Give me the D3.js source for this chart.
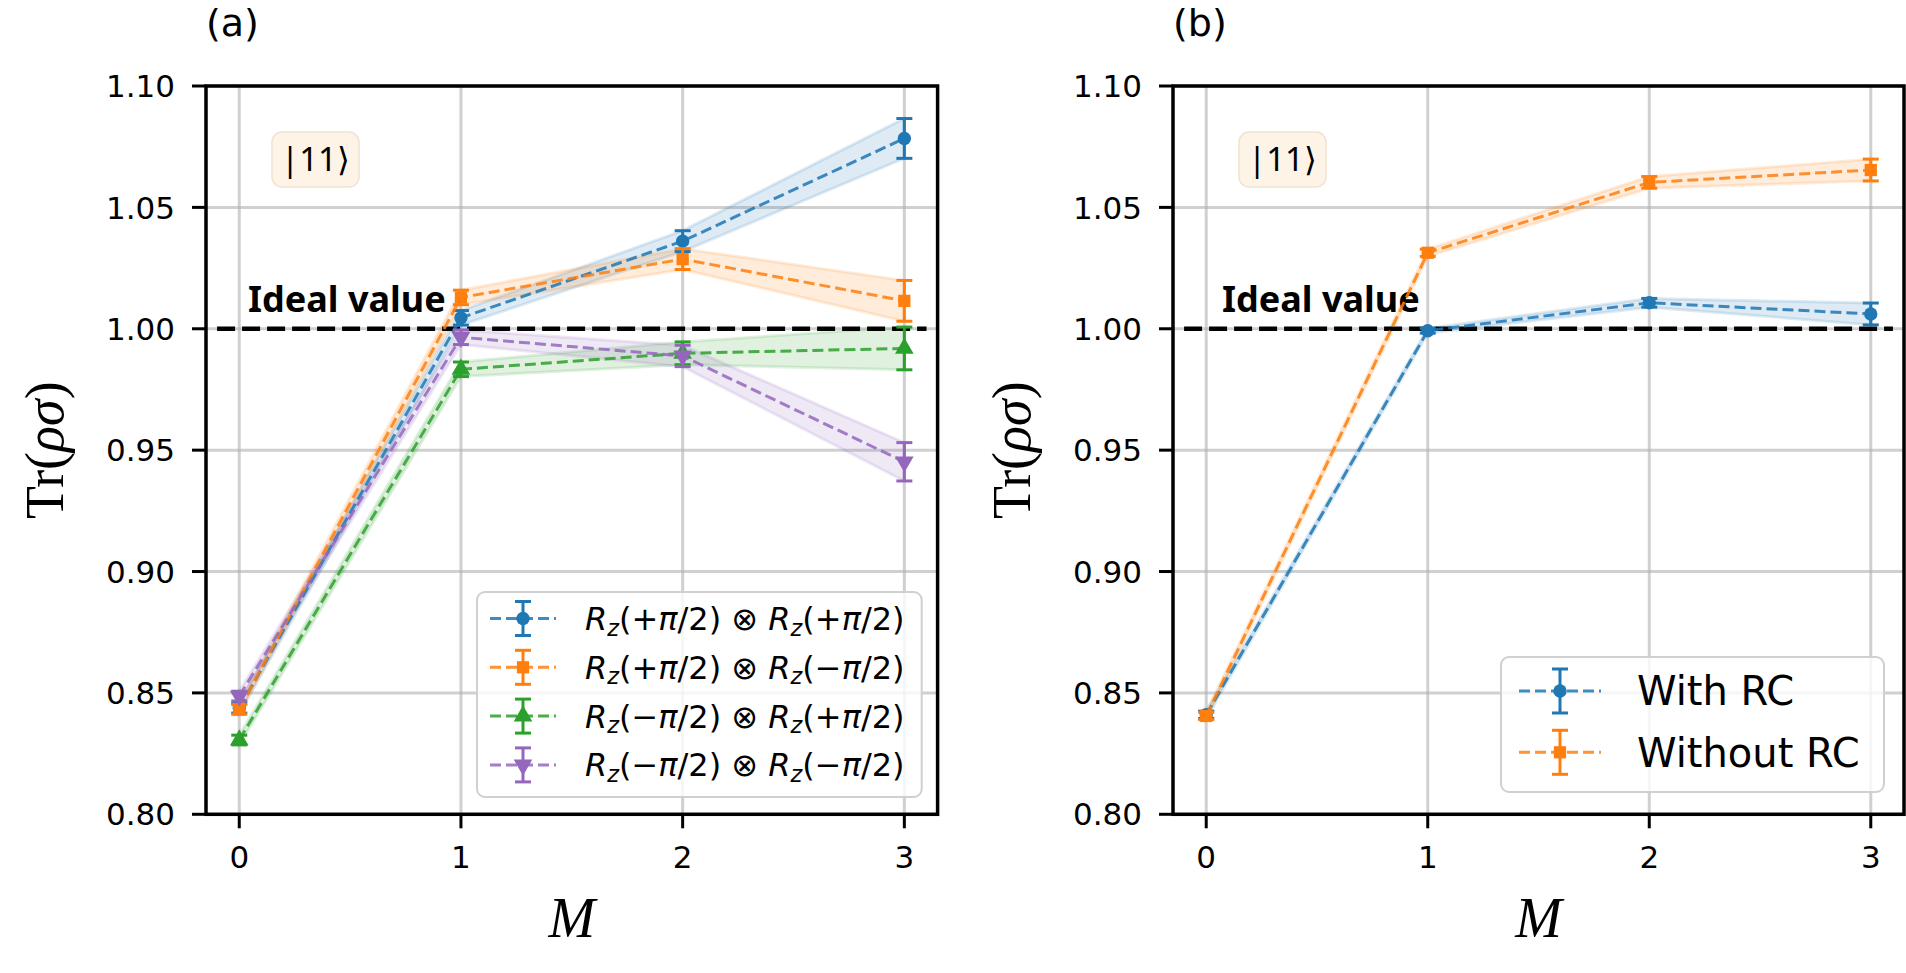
<!DOCTYPE html>
<html>
<head>
<meta charset="utf-8">
<script src="https://cdn.jsdelivr.net/npm/d3@7"></script>
<style>
  body { margin: 0; background: #fff; }
  svg { display: block; }
</style>
</head>
<body>
<svg id="fig" width="1906" height="973"></svg>
<script>
// ---- data ----
const M = [0, 1, 2, 3]
const yTicks = [0.80, 0.85, 0.90, 0.95, 1.00, 1.05, 1.10]
const idealValue = 1.0

// panel (a)
const aPP = [0.8437, 1.0045, 1.0361, 1.0784]
const aPPerr = [0.002, 0.003, 0.0043, 0.0082]
const aPM = [0.8432, 1.0129, 1.0287, 1.0115]
const aPMerr = [0.002, 0.003, 0.0043, 0.0084]
const aMP = [0.8306, 0.9833, 0.9899, 0.9919]
const aMPerr = [0.002, 0.003, 0.0047, 0.0088]
const aMM = [0.8487, 0.9965, 0.9888, 0.9452]
const aMMerr = [0.002, 0.003, 0.0044, 0.0079]

// panel (b)
const bWith = [0.8410, 0.9992, 1.0107, 1.0061]
const bWithErr = [0.0015, 0.001, 0.0018, 0.0045]
const bWithout = [0.8405, 1.0313, 1.0603, 1.0654]
const bWithoutErr = [0.0015, 0.0015, 0.0024, 0.0045]

// legend labels, as [text, style] pieces (i = italic, s = subscript)
const labelsA = [
  [['R','i'],['z','is'],['(+'],['π','i'],['/2) ⊗ '],['R','i'],['z','is'],['(+'],['π','i'],['/2)']],
  [['R','i'],['z','is'],['(+'],['π','i'],['/2) ⊗ '],['R','i'],['z','is'],['(−'],['π','i'],['/2)']],
  [['R','i'],['z','is'],['(−'],['π','i'],['/2) ⊗ '],['R','i'],['z','is'],['(+'],['π','i'],['/2)']],
  [['R','i'],['z','is'],['(−'],['π','i'],['/2) ⊗ '],['R','i'],['z','is'],['(−'],['π','i'],['/2)']]
]
const labelsB = ['With RC', 'Without RC']

const C = { blue: '#1f77b4', orange: '#ff7f0e', green: '#2ca02c', purple: '#9467bd' }

const svg = d3.select('#fig')
svg.append('rect').attr('width', 1906).attr('height', 973).attr('fill', '#fff')

function marker (g, kind, x, y, color) {
  let sym
  switch (kind) {
    case 'o': sym = d3.symbol(d3.symbolCircle, 140); break
    case 's': sym = d3.symbol(d3.symbolSquare, 150); break
    default: sym = d3.symbol(d3.symbolTriangle, 150)
  }
  g.append('path').attr('d', sym())
    .attr('transform', `translate(${x},${y})` + (kind === 'v' ? ' rotate(180)' : ''))
    .attr('fill', color)
}

function errbar (g, x, y0, y1, color) {
  g.append('line').attr('x1', x).attr('x2', x).attr('y1', y0).attr('y2', y1)
    .attr('stroke', color).attr('stroke-width', 3)
  ;[y0, y1].forEach(yy => g.append('line').attr('x1', x - 8).attr('x2', x + 8)
    .attr('y1', yy).attr('y2', yy).attr('stroke', color).attr('stroke-width', 3))
}

function drawPanel (p) {
  const x = d3.scaleLinear().domain([-0.15, 3.15]).range([p.left, p.right])
  const y = d3.scaleLinear().domain([0.8, 1.1]).range([p.bottom, p.top])
  const g = svg.append('g')

  // grid
  g.append('g').selectAll('line').data(M).join('line')
    .attr('x1', d => x(d)).attr('x2', d => x(d)).attr('y1', p.top).attr('y2', p.bottom)
    .attr('stroke', '#b0b0b0').attr('stroke-opacity', 0.6).attr('stroke-width', 3)
  g.append('g').selectAll('line').data(yTicks).join('line')
    .attr('x1', p.left).attr('x2', p.right).attr('y1', d => y(d)).attr('y2', d => y(d))
    .attr('stroke', '#b0b0b0').attr('stroke-opacity', 0.6).attr('stroke-width', 3)

  // bands
  p.series.forEach(s => {
    const area = d3.area().x((d, i) => x(M[i])).y0((d, i) => y(d - s.err[i])).y1((d, i) => y(d + s.err[i]))
    g.append('path').attr('d', area(s.values)).attr('fill', s.color).attr('fill-opacity', 0.15)
      .attr('stroke', s.color).attr('stroke-opacity', 0.15).attr('stroke-width', 3)
  })

  // ideal value line
  g.append('line').attr('x1', x(-0.1)).attr('x2', x(3.1)).attr('y1', y(idealValue)).attr('y2', y(idealValue))
    .attr('stroke', '#000').attr('stroke-width', 4.5).attr('stroke-dasharray', '18 7')
  g.append('text').attr('x', p.idealX).attr('y', 312).text('Ideal value')
    .attr('font-family', 'Noto Sans').attr('font-weight', 'bold').attr('font-size', 36)

  // lines, error bars, markers
  p.series.forEach(s => {
    const line = d3.line().x((d, i) => x(M[i])).y(d => y(d))
    g.append('path').attr('d', line(s.values)).attr('fill', 'none')
      .attr('stroke', s.color).attr('stroke-width', 3).attr('stroke-dasharray', '11 5')
      .attr('stroke-opacity', 0.85)
    s.values.forEach((v, i) => {
      errbar(g, x(M[i]), y(v - s.err[i]), y(v + s.err[i]), s.color)
      marker(g, s.marker, x(M[i]), y(v), s.color)
    })
  })

  // spines
  g.append('rect').attr('x', p.left).attr('y', p.top).attr('width', p.right - p.left)
    .attr('height', p.bottom - p.top).attr('fill', 'none').attr('stroke', '#000').attr('stroke-width', 3.5)

  // ticks
  g.append('g').selectAll('line').data(yTicks).join('line')
    .attr('x1', p.left - 14).attr('x2', p.left).attr('y1', d => y(d)).attr('y2', d => y(d))
    .attr('stroke', '#000').attr('stroke-width', 3)
  g.append('g').selectAll('text').data(yTicks).join('text')
    .attr('x', p.left - 31).attr('y', d => y(d)).attr('dy', '0.36em').attr('text-anchor', 'end')
    .attr('font-family', 'DejaVu Sans').attr('font-size', 31).text(d => d3.format('.2f')(d))
  g.append('g').selectAll('line').data(M).join('line')
    .attr('x1', d => x(d)).attr('x2', d => x(d)).attr('y1', p.bottom).attr('y2', p.bottom + 14)
    .attr('stroke', '#000').attr('stroke-width', 3)
  g.append('g').selectAll('text').data(M).join('text')
    .attr('x', d => x(d)).attr('y', 868).attr('text-anchor', 'middle')
    .attr('font-family', 'DejaVu Sans').attr('font-size', 31).text(d => d)

  // axis labels
  g.append('text').attr('x', (p.left + p.right) / 2).attr('y', 937).attr('text-anchor', 'middle')
    .attr('font-family', 'Liberation Serif').attr('font-style', 'italic').attr('font-size', 56).text('M')
  const yl = g.append('text').attr('transform', `translate(${p.left - 143},${(p.top + p.bottom) / 2}) rotate(-90)`)
    .attr('text-anchor', 'middle').attr('font-family', 'Liberation Serif').attr('font-size', 54)
  yl.append('tspan').text('Tr(')
  yl.append('tspan').attr('font-style', 'italic').text('ρσ')
  yl.append('tspan').text(')')

  // title
  g.append('text').attr('x', p.left).attr('y', 36).attr('font-family', 'DejaVu Sans')
    .attr('font-size', 38).text(p.title)

  // state box
  const bx = p.left + 66
  g.append('rect').attr('x', bx).attr('y', 132).attr('width', 87).attr('height', 55).attr('rx', 10)
    .attr('fill', '#fdf4e7').attr('stroke', '#efe3d0').attr('stroke-width', 1.5)
  g.append('text').attr('x', bx + 43.5).attr('y', 159.5).attr('dy', '0.35em').attr('text-anchor', 'middle')
    .attr('font-family', 'Noto Sans').attr('font-size', 33).text('|11⟩')

  // legend
  const L = p.legend
  const lg = g.append('g')
  lg.append('rect').attr('x', L.x0).attr('y', L.y0).attr('width', L.x1 - L.x0).attr('height', L.y1 - L.y0)
    .attr('rx', 8).attr('fill', '#fff').attr('fill-opacity', 0.8).attr('stroke', '#d0d0d0').attr('stroke-width', 2)
  p.series.forEach((s, i) => {
    const cy = L.row0 + i * L.rowH
    lg.append('line').attr('x1', L.hx0).attr('x2', L.hx1).attr('y1', cy).attr('y2', cy)
      .attr('stroke', s.color).attr('stroke-width', 3).attr('stroke-dasharray', '11 5').attr('stroke-opacity', 0.85)
    const hc = (L.hx0 + L.hx1) / 2
    errbar(lg, hc, cy - L.eh, cy + L.eh, s.color)
    marker(lg, s.marker, hc, cy, s.color)
    const t = lg.append('text').attr('x', L.tx).attr('y', cy).attr('dy', '0.36em')
      .attr('font-family', 'DejaVu Sans').attr('font-size', L.fs)
    if (typeof s.label === 'string') {
      t.text(s.label)
    } else {
      let sub = false
      s.label.forEach(([txt, st]) => {
        const ts = t.append('tspan').text(txt)
        if (st && st.includes('i')) ts.attr('font-style', 'italic')
        if (st && st.includes('s')) {
          ts.attr('font-size', L.fs * 0.7).attr('dy', '0.25em')
          sub = true
        } else if (sub) {
          ts.attr('dy', '-0.175em')
          sub = false
        }
      })
    }
  })
}

drawPanel({
  left: 206, right: 937.6, top: 86, bottom: 814.3, title: '(a)', idealX: 248,
  series: [
    { values: aPP, err: aPPerr, color: C.blue, marker: 'o', label: labelsA[0] },
    { values: aPM, err: aPMerr, color: C.orange, marker: 's', label: labelsA[1] },
    { values: aMP, err: aMPerr, color: C.green, marker: '^', label: labelsA[2] },
    { values: aMM, err: aMMerr, color: C.purple, marker: 'v', label: labelsA[3] }
  ],
  legend: { x0: 477, x1: 921.7, y0: 592, y1: 797, row0: 618.5, rowH: 48.8, hx0: 490, hx1: 556, eh: 17, tx: 585, fs: 32 }
})

drawPanel({
  left: 1173, right: 1904, top: 86, bottom: 814.3, title: '(b)', idealX: 1222,
  series: [
    { values: bWith, err: bWithErr, color: C.blue, marker: 'o', label: labelsB[0] },
    { values: bWithout, err: bWithoutErr, color: C.orange, marker: 's', label: labelsB[1] }
  ],
  legend: { x0: 1501, x1: 1884, y0: 657, y1: 792, row0: 691, rowH: 61.3, hx0: 1519, hx1: 1601, eh: 22, tx: 1637, fs: 40 }
})
</script>
</body>
</html>
